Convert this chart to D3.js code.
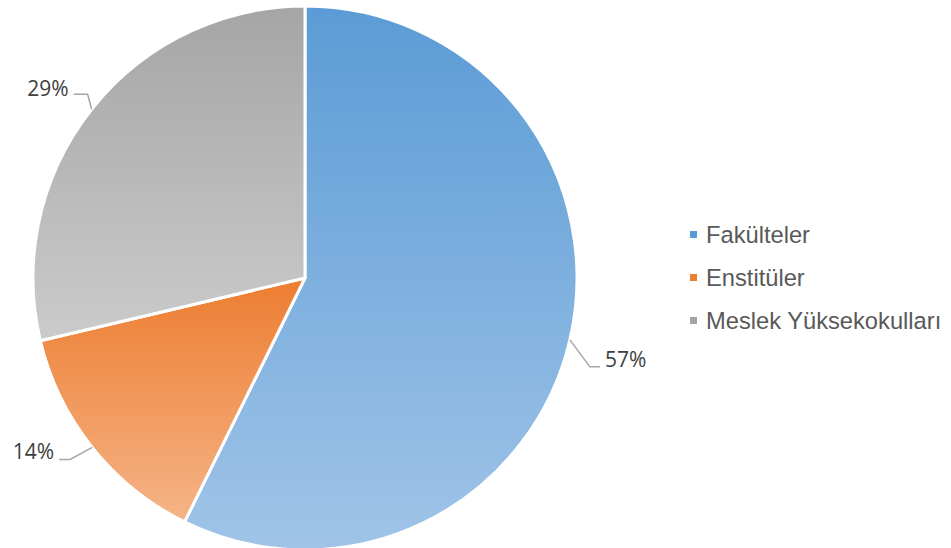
<!DOCTYPE html>
<html>
<head>
<meta charset="utf-8">
<script src="https://cdn.jsdelivr.net/npm/d3@7"></script>
<style>
  html, body { margin: 0; padding: 0; background: #ffffff; }
  svg { display: block; }
</style>
</head>
<body>
<svg id="chart" width="951" height="548"></svg>
<script>
// ---- data ----
const categories = ["Fakülteler", "Enstitüler", "Meslek Yüksekokulları"];
const values = [57.3, 14.0, 28.7];

// ---- styles ----
const topColors = ["#5B9BD5", "#ED7D31", "#A5A5A5"];
const bottomColors = ["#A0C4E8", "#F5B487", "#CBCBCB"];
// label leader geometry (elbow and end offsets relative to slice edge point)
const leader = [
  { elbow: [20, 27], end: [30, 27], anchor: "start", tx: 35, ty: 27 },
  { elbow: [-22, 12], end: [-33, 12], anchor: "end", tx: -38, ty: 12 },
  { elbow: [-4, -15], end: [-18, -15], anchor: "end", tx: -23, ty: -13 }
];

const width = 951, height = 548;
const cx = 305, cy = 278, r = 272;

const svg = d3.select("#chart");
const defs = svg.append("defs");

categories.forEach((c, i) => {
  const g = defs.append("linearGradient")
    .attr("id", "grad" + i)
    .attr("x1", 0).attr("y1", 0).attr("x2", 0).attr("y2", 1);
  g.append("stop").attr("offset", "0%").attr("stop-color", topColors[i]);
  g.append("stop").attr("offset", "100%").attr("stop-color", bottomColors[i]);
});

const data = categories.map((c, i) => ({ name: c, value: values[i], i }));
const total = d3.sum(values);
const pie = d3.pie().value(d => d.value).sort(null);
const arcs = pie(data);
const arc = d3.arc().innerRadius(0).outerRadius(r);

const g = svg.append("g").attr("transform", `translate(${cx},${cy})`);

g.selectAll("path.slice")
  .data(arcs)
  .join("path")
  .attr("class", "slice")
  .attr("d", arc)
  .attr("fill", d => `url(#grad${d.data.i})`)
  .attr("stroke", "#ffffff")
  .attr("stroke-width", 3)
  .attr("stroke-linejoin", "round");

const fmt = d3.format(".0%");

arcs.forEach(d => {
  const mid = (d.startAngle + d.endAngle) / 2;
  const px = r * Math.sin(mid), py = -r * Math.cos(mid);
  const L = leader[d.data.i];
  g.append("polyline")
    .attr("points", [[px, py], [px + L.elbow[0], py + L.elbow[1]], [px + L.end[0], py + L.end[1]]].map(p => p.join(",")).join(" "))
    .attr("fill", "none")
    .attr("stroke", "#A6A6A6")
    .attr("stroke-width", 1.5);
  g.append("text")
    .attr("x", px + L.tx)
    .attr("y", py + L.ty)
    .attr("text-anchor", L.anchor)
    .attr("font-family", "Open Sans, sans-serif")
    .attr("font-size", 21)
    .attr("fill", "#404040")
    .text(fmt(d.data.value / total));
});

// ---- legend ----
const legend = svg.append("g").attr("transform", "translate(690,234.5)");
const items = legend.selectAll("g.item")
  .data(data)
  .join("g")
  .attr("class", "item")
  .attr("transform", (d, i) => `translate(0,${i * 43})`);
items.append("rect")
  .attr("x", 0).attr("y", -3.5)
  .attr("width", 7).attr("height", 7)
  .attr("fill", d => topColors[d.i]);
items.append("text")
  .attr("x", 16)
  .attr("y", 8.5)
  .attr("font-family", "Liberation Sans, Arial, sans-serif")
  .attr("font-size", 23.7)
  .attr("fill", "#595959")
  .text(d => d.name);
</script>
</body>
</html>
